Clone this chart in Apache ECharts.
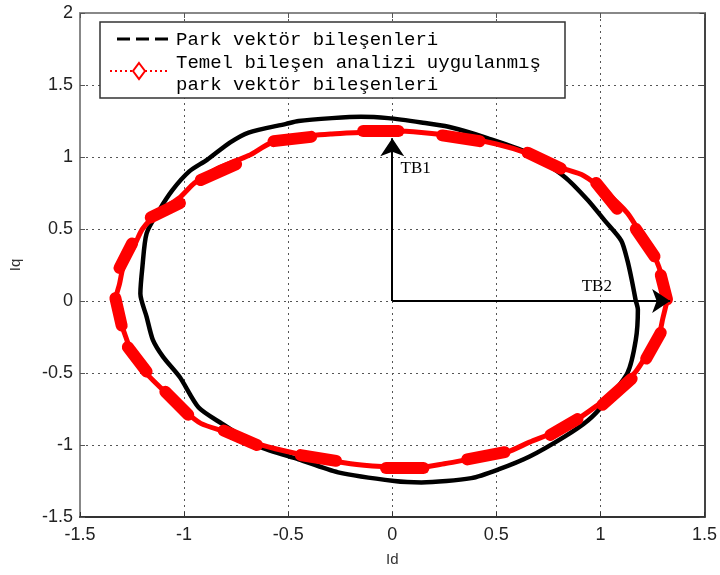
<!DOCTYPE html>
<html>
<head>
<meta charset="utf-8">
<script src="https://cdn.jsdelivr.net/npm/echarts@6/dist/echarts.min.js"></script>
<style>html,body{margin:0;padding:0;background:#fff}#c{width:720px;height:575px}</style>
</head>
<body>
<div id="c"></div>
<script>
// ---- data ----
const xTicks = [-1.5, -1, -0.5, 0, 0.5, 1, 1.5];
const yTicks = [-1.5, -1, -0.5, 0, 0.5, 1, 1.5, 2];
const xName = 'Id';
const yName = 'Iq';
const legendLines = ['Park vektör bileşenleri', 'Temel bileşen analizi uygulanmış', 'park vektör bileşenleri'];

// black: Park vektör bileşenleri
const parkX = [1.17, 1.15, 1.13, 1.10, 1.02, 0.94, 0.83, 0.65, 0.46, 0.27, 0.14, -0.02, -0.15, -0.29, -0.45, -0.51, -0.69, -0.78, -0.89, -0.975, -1.056, -1.12, -1.18, -1.20, -1.21, -1.18, -1.15, -1.10, -1.02, -0.93, -0.82, -0.64, -0.45, -0.26, 0.01, 0.14, 0.38, 0.51, 0.66, 0.83, 0.94, 1.02, 1.13, 1.17, 1.18, 1.17];
const parkY = [0.0, 0.15, 0.28, 0.42, 0.56, 0.70, 0.86, 1.03, 1.13, 1.21, 1.24, 1.27, 1.28, 1.27, 1.25, 1.23, 1.17, 1.10, 0.98, 0.90, 0.77, 0.63, 0.47, 0.24, 0.05, -0.11, -0.27, -0.39, -0.53, -0.74, -0.85, -1.01, -1.10, -1.19, -1.25, -1.26, -1.23, -1.17, -1.08, -0.94, -0.83, -0.71, -0.50, -0.27, -0.06, 0.0];

// red: Temel bileşen analizi uygulanmış park vektör bileşenleri
const pcaX = [1.32, 1.30, 1.26, 1.20, 1.13, 1.03, 0.92, 0.80, 0.64, 0.50, 0.32, 0.14, 0.0, -0.15, -0.29, -0.45, -0.58, -0.69, -0.84, -0.95, -1.02, -1.12, -1.20, -1.24, -1.29, -1.31, -1.33, -1.31, -1.28, -1.24, -1.17, -1.10, -1.00, -0.92, -0.80, -0.65, -0.52, -0.36, -0.20, -0.05, 0.10, 0.25, 0.40, 0.55, 0.66, 0.78, 0.88, 0.98, 1.08, 1.17, 1.22, 1.28, 1.30, 1.32];
const pcaY = [0.0, 0.15, 0.31, 0.45, 0.61, 0.75, 0.87, 0.93, 1.03, 1.09, 1.14, 1.17, 1.18, 1.17, 1.16, 1.14, 1.10, 1.01, 0.92, 0.82, 0.72, 0.62, 0.50, 0.38, 0.25, 0.12, 0.0, -0.12, -0.25, -0.40, -0.52, -0.62, -0.76, -0.85, -0.91, -0.99, -1.04, -1.09, -1.13, -1.15, -1.16, -1.13, -1.09, -1.05, -0.98, -0.91, -0.83, -0.73, -0.62, -0.49, -0.38, -0.24, -0.12, 0.0];

// thick oscillation clusters on the red trace: [x1, y1, x2, y2]
const pcaBlobX1 = [1.32, 1.26, 1.08, 0.81, 0.42, 0.03, -0.39, -0.75, -1.02, -1.25, -1.33, -1.27, -1.09, -0.81, -0.44, -0.03, 0.36, 0.76, 1.01, 1.22];
const pcaBlobY1 = [0.01, 0.31, 0.64, 0.92, 1.11, 1.18, 1.14, 0.95, 0.68, 0.40, 0.02, -0.32, -0.63, -0.90, -1.07, -1.16, -1.10, -0.93, -0.72, -0.40];
const pcaBlobX2 = [1.29, 1.17, 0.98, 0.65, 0.24, -0.14, -0.57, -0.92, -1.16, -1.31, -1.30, -1.18, -0.98, -0.65, -0.27, 0.15, 0.54, 0.89, 1.15, 1.29];
const pcaBlobY2 = [0.18, 0.50, 0.82, 1.03, 1.15, 1.18, 1.11, 0.84, 0.58, 0.23, -0.17, -0.49, -0.79, -1.00, -1.11, -1.16, -1.05, -0.82, -0.54, -0.22];

// annotation arrows: from origin to tip
const arrowNames = ['TB1', 'TB2'];
const arrowTipX = [0, 1.335];
const arrowTipY = [1.13, 0];
const arrowLabelX = [0.04, 0.91];
const arrowLabelY = [0.92, 0.10];

// ---- build ----
const zip = (a, b) => a.map((v, i) => [v, b[i]]);
const blobs = pcaBlobX1.map((v, i) => ({ coords: [[v, pcaBlobY1[i]], [pcaBlobX2[i], pcaBlobY2[i]]] }));
const arrows = arrowTipX.map((v, i) => ({ coords: [[0, 0], [v, arrowTipY[i]]] }));

const chart = echarts.init(document.getElementById('c'), null, { renderer: 'canvas' });
const gridLine = { show: true, lineStyle: { color: '#555', type: [2, 4], width: 1 } };
const tickFont = { fontFamily: 'Liberation Sans, Arial, sans-serif', fontSize: 18, color: '#222' };

chart.setOption({
  animation: false,
  backgroundColor: '#fff',
  grid: { left: 80, right: 12, top: 13, bottom: 58, containLabel: false },
  xAxis: [
    { type: 'value', min: xTicks[0], max: xTicks[xTicks.length - 1], interval: 0.5, position: 'bottom',
      name: xName, nameLocation: 'middle', nameGap: 35,
      nameTextStyle: { fontFamily: 'Liberation Sans, Arial, sans-serif', fontSize: 15, color: '#333' },
      axisLine: { show: true, onZero: false, lineStyle: { color: '#333', width: 2 } },
      axisTick: { show: true, inside: true, length: 5, lineStyle: { color: '#333' } },
      axisLabel: Object.assign({ margin: 9 }, tickFont),
      splitLine: gridLine },
    { type: 'value', min: xTicks[0], max: xTicks[xTicks.length - 1], interval: 0.5, position: 'top',
      axisLine: { show: true, onZero: false, lineStyle: { color: '#888', width: 2 } },
      axisTick: { show: true, inside: true, length: 5, lineStyle: { color: '#555' } },
      axisLabel: { show: false }, splitLine: { show: false } }
  ],
  yAxis: [
    { type: 'value', min: yTicks[0], max: yTicks[yTicks.length - 1], interval: 0.5, position: 'left',
      name: yName, nameLocation: 'middle', nameGap: 57,
      nameTextStyle: { fontFamily: 'Liberation Sans, Arial, sans-serif', fontSize: 15, color: '#333' },
      axisLine: { show: true, onZero: false, lineStyle: { color: '#888', width: 2 } },
      axisTick: { show: true, inside: true, length: 5, lineStyle: { color: '#555' } },
      axisLabel: Object.assign({ margin: 7 }, tickFont),
      splitLine: gridLine },
    { type: 'value', min: yTicks[0], max: yTicks[yTicks.length - 1], interval: 0.5, position: 'right',
      axisLine: { show: true, onZero: false, lineStyle: { color: '#444', width: 2 } },
      axisTick: { show: true, inside: true, length: 5, lineStyle: { color: '#444' } },
      axisLabel: { show: false }, splitLine: { show: false } }
  ],
  series: [
    { name: legendLines[0], type: 'line', data: zip(parkX, parkY), showSymbol: false, smooth: 0.25,
      lineStyle: { color: '#000', width: 4.5 }, z: 3 },
    { name: legendLines[1] + ' ' + legendLines[2], type: 'line', data: zip(pcaX, pcaY), showSymbol: false, smooth: 0.25,
      lineStyle: { color: '#ff0000', width: 5 }, z: 4 },
    { type: 'lines', coordinateSystem: 'cartesian2d', data: blobs, polyline: false, symbol: 'none',
      lineStyle: { color: '#ff0000', width: 12, opacity: 1, cap: 'round', curveness: 0 }, z: 5 },
    { type: 'lines', coordinateSystem: 'cartesian2d', data: arrows, polyline: false,
      symbol: ['none', 'arrow'], symbolSize: [12, 18],
      lineStyle: { color: '#000', width: 2, opacity: 1, curveness: 0 }, z: 6 }
  ]
});

// annotation labels (placed through the axes) and legend box
const g = [];
arrowNames.forEach((t, i) => {
  const p = chart.convertToPixel({ xAxisIndex: 0, yAxisIndex: 0 }, [arrowLabelX[i], arrowLabelY[i]]);
  g.push({ type: 'text', x: p[0], y: p[1], z: 100,
    style: { text: t, font: '17px "Liberation Serif", "Times New Roman", serif', fill: '#000', textVerticalAlign: 'middle' } });
});
g.push({ type: 'rect', shape: { x: 100, y: 22, width: 465, height: 76 }, z: 100,
  style: { fill: '#fff', stroke: '#333', lineWidth: 1.5 } });
g.push({ type: 'line', shape: { x1: 117, y1: 39, x2: 170, y2: 39 }, z: 101,
  style: { stroke: '#000', lineWidth: 3, lineDash: [13, 6] } });
g.push({ type: 'line', shape: { x1: 110, y1: 71, x2: 170, y2: 71 }, z: 101,
  style: { stroke: '#ff0000', lineWidth: 2, lineDash: [2, 3] } });
g.push({ type: 'polygon', shape: { points: [[139, 63], [145, 71], [139, 79], [133, 71]] }, z: 102,
  style: { fill: '#fff', stroke: '#ff0000', lineWidth: 2 } });
const legendY = [40, 63, 85];
legendLines.forEach((t, i) => {
  g.push({ type: 'text', x: 176, y: legendY[i], z: 102,
    style: { text: t, font: '19px "Liberation Mono", "Courier New", monospace', fill: '#000', textVerticalAlign: 'middle' } });
});
chart.setOption({ graphic: g });
</script>
</body>
</html>
